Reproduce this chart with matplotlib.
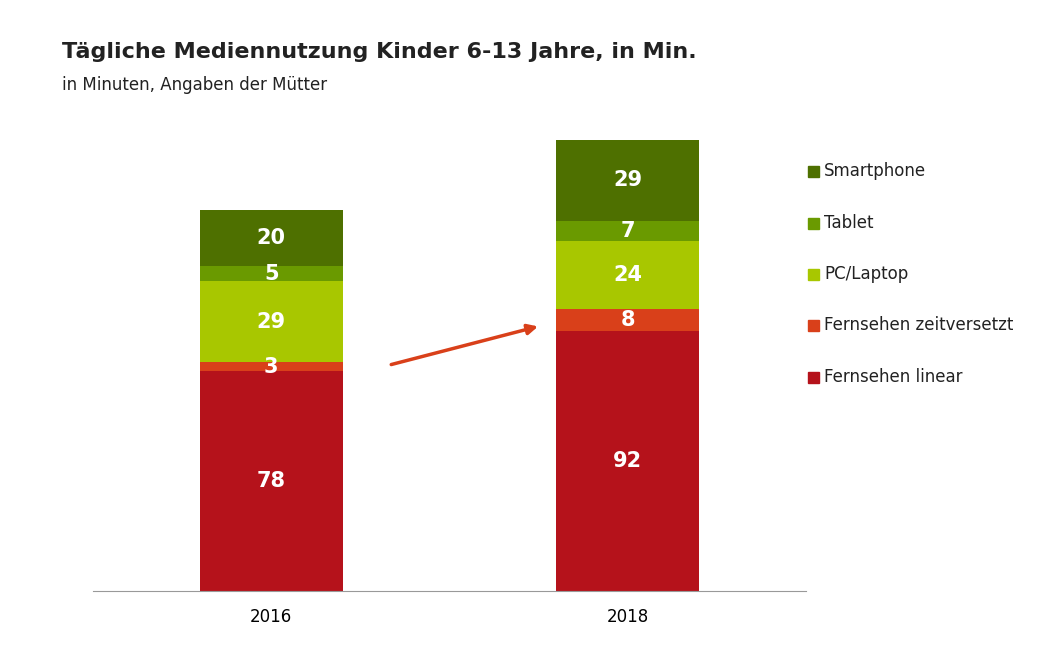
import matplotlib.pyplot as plt
from matplotlib.patches import Rectangle

years = ["2016", "2018"]
categories = ["Fernsehen linear", "Fernsehen zeitversetzt", "PC/Laptop", "Tablet", "Smartphone"]
values = {
    "Fernsehen linear": [78, 92],
    "Fernsehen zeitversetzt": [3, 8],
    "PC/Laptop": [29, 24],
    "Tablet": [5, 7],
    "Smartphone": [20, 29],
}
colors = ["#B5121B", "#D9401A", "#A8C700", "#6A9A00", "#4E7000"]

W, H = 1061, 657
fig = plt.figure(figsize=(W / 100, H / 100), dpi=100)
ax = fig.add_axes([93 / W, (H - 591) / H, 713 / W, 491 / H])

x = range(len(years))
bottom = [0, 0]
for cat, col in zip(categories, colors):
    v = values[cat]
    ax.bar(x, v, 0.40, bottom=bottom, color=col)
    for i in x:
        ax.text(i, bottom[i] + v[i] / 2, str(v[i]), ha="center", va="center",
                color="white", fontsize=15, fontweight="bold")
    bottom = [b + vv for b, vv in zip(bottom, v)]

ax.set_xlim(-0.5, 1.5)
ax.set_ylim(0, 174)
ax.set_xticks(list(x))
ax.set_xticklabels(years, fontsize=12)
ax.tick_params(axis="x", length=0, pad=12)
ax.set_yticks([])
for s in ["top", "right", "left"]:
    ax.spines[s].set_visible(False)
ax.spines["bottom"].set_color("#999999")

ax.annotate("", xy=(0.756, 94), xytext=(0.329, 80),
            arrowprops=dict(arrowstyle="-|>", color="#D9401A", lw=2.5, mutation_scale=15))

fig.text(62 / W, 1 - 52 / H, "Tägliche Mediennutzung Kinder 6-13 Jahre, in Min.",
         fontsize=16, fontweight="bold", va="center", color="#222222")
fig.text(62 / W, 1 - 85 / H, "in Minuten, Angaben der Mütter", fontsize=12,
         va="center", color="#222222")

leg_y = [171, 223, 274, 325, 377]
for cat, col, yy in zip(categories[::-1], colors[::-1], leg_y):
    fig.patches.append(Rectangle((808 / W, 1 - (yy + 6) / H), 11 / W, 11 / H,
                                 transform=fig.transFigure, color=col))
    fig.text(824 / W, 1 - yy / H, cat, fontsize=12, va="center", color="#222222")

fig.savefig("out.png", dpi=100)
